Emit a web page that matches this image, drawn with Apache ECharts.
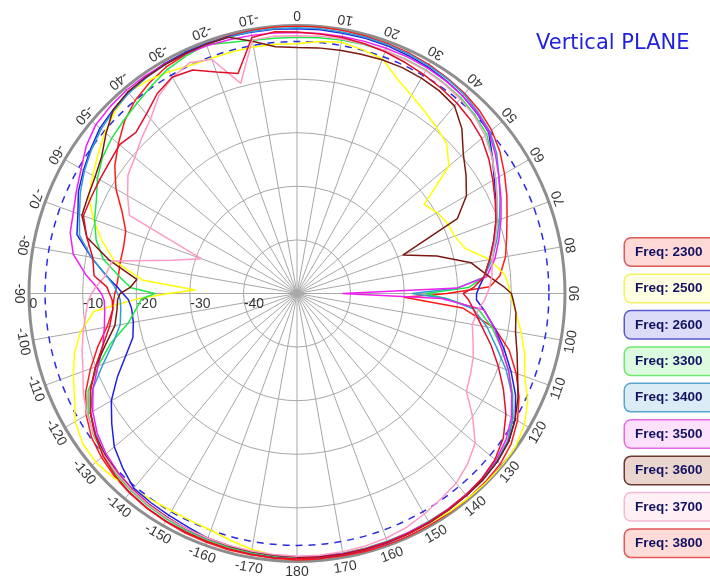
<!DOCTYPE html>
<html>
<head>
<meta charset="utf-8">
<script src="https://cdn.jsdelivr.net/npm/echarts@6/dist/echarts.min.js"></script>
<style>
html,body{margin:0;padding:0;background:#fff;}
#chart{width:710px;height:579px;}
</style>
</head>
<body>
<div id="chart"></div>
<script>
// Angles (degrees, 0 = top, clockwise positive)
const angles = [-180,-175,-170,-165,-160,-155,-150,-145,-140,-135,-130,-125,-120,-115,-110,-105,-100,-95,
  -92,-90,-88,
  -85,-80,-75,-70,-65,-60,-55,-50,-45,-40,-35,-30,-25,-20,-15,-10,-5,
  0,
  5,10,15,20,25,30,35,40,45,50,55,60,65,70,75,80,85,
  88,90,92,
  95,100,105,110,115,120,125,130,135,140,145,150,155,160,165,170,175,180];

// Gain (dB) per frequency, same order as angles
const f2300 = [-0.3,-0.4,-0.5,-0.5,-0.6,-0.7,-0.9,-1.1,-1.4,-1.8,-2.4,-3.2,-4.6,-6.5,-9,-11.5,-14,-15.5,
  -15.8,-16,-16.3,
  -16.5,-16.5,-16.5,-16,-14,-11,-8.5,-6.5,-4.5,-3,-2,-1.2,-0.8,-0.5,-0.3,-0.2,-0.1,
  -0.1,
  -0.1,-0.2,-0.3,-0.4,-0.5,-0.7,-1,-1.3,-1.8,-2.6,-3.8,-5.3,-6.8,-8.3,-9.5,-10.5,-12,
  -14,-22,-30,
  -19,-12.5,-9,-6.5,-4.3,-2.5,-1.2,-0.5,-0.3,-0.2,-0.2,-0.2,-0.2,-0.2,-0.2,-0.3,-0.3,-0.3];
const f2500 = [-0.8,-1,-1.5,-2.3,-3,-3.2,-3.2,-2.9,-2.4,-1.5,-1,-1.2,-2.2,-4.2,-5.6,-7,-9,-12,
  -20,-26,-31,
  -21,-15.5,-12.4,-9.6,-7.1,-6,-4.7,-3.2,-2,-1,-1.5,-2.2,-3,-3.3,-3.3,-3.3,-3.3,
  -3.4,
  -2.8,-2.4,-2.9,-3.4,-5.8,-7.3,-8.5,-9.5,-10.5,-13,-21,-19.8,-19,-18.7,-17.5,-13.5,-11,
  -10.5,-10.2,-9.8,
  -9,-7.5,-6,-4.8,-2.5,-1,-0.2,0,-0.1,-0.2,-0.3,-0.5,-0.6,-0.7,-0.8,-0.9,-0.9,-0.8];
const f2600 = [-0.6,-0.7,-0.9,-1.1,-1.4,-1.9,-2.2,-2.4,-2.6,-4,-5.5,-7.8,-10,-13,-16,-18.3,-19,-19,
  -18.5,-17.5,-16.5,
  -14.5,-11,-7.5,-6.5,-5,-4,-3,-2,-1.5,-1,-0.7,-0.5,-0.4,-0.4,-0.4,-0.5,-0.5,
  -0.6,
  -0.6,-0.7,-0.7,-0.8,-1,-1.2,-1.5,-1.9,-2.5,-3.3,-5.5,-7.5,-9,-10.5,-12,-13.5,-15,
  -16,-16.5,-16.5,
  -15,-12.5,-10,-7.5,-5,-3,-1.8,-1.2,-0.9,-0.8,-0.7,-0.6,-0.6,-0.5,-0.5,-0.5,-0.5,-0.6];
const f3300 = [-0.7,-0.8,-0.9,-1,-1.1,-1.2,-1.4,-1.6,-1.9,-2.3,-2.9,-3.7,-5,-7,-10.5,-14,-18,-20,
  -21,-23.5,-19,
  -17,-13.3,-11.2,-9.8,-8.7,-7,-5.7,-4.9,-4.3,-3.6,-2.7,-1.7,-1.1,-0.6,-1.5,-2,-2.2,
  -2.2,
  -2.1,-2,-1.9,-1.8,-1.8,-1.9,-2.1,-2.4,-3,-3.8,-5.6,-7.2,-8.8,-10.2,-11.8,-13.5,-15,
  -18,-26,-22,
  -16,-13,-10.5,-8,-5.6,-3.5,-2,-1.4,-1.1,-1,-0.9,-0.9,-0.8,-0.8,-0.8,-0.7,-0.7,-0.7];
const f3400 = [-0.9,-1,-1.1,-1.2,-1.3,-1.4,-1.6,-1.8,-2.1,-2.5,-3.2,-4.2,-5.5,-8,-11.5,-14.5,-16.5,-17,
  -17,-16.5,-16,
  -14.5,-11,-8,-6.8,-5.4,-4.2,-3.2,-2.3,-1.7,-1.2,-0.9,-0.7,-0.6,-0.5,-0.5,-0.4,-0.4,
  -0.4,
  -0.4,-0.5,-0.5,-0.6,-0.7,-0.9,-1.1,-1.5,-2.2,-3,-4.5,-6.5,-8.2,-9.8,-11.4,-13,-15,
  -20,-28.5,-22,
  -17,-14,-11.5,-8.5,-5.8,-3.5,-2,-1.3,-1,-0.9,-0.8,-0.8,-0.7,-0.7,-0.7,-0.8,-0.8,-0.9];
const f3500 = [-0.9,-1,-1.1,-1.3,-1.4,-1.5,-1.7,-2,-2.3,-2.8,-3.5,-4.5,-6,-8,-10.5,-12.5,-13.5,-14,
  -14,-13.5,-12.5,
  -10.5,-7.6,-6.2,-5.6,-4.6,-3.5,-2,-1,-0.7,-0.5,-0.5,-0.6,-0.7,-0.8,-1,-1.1,-1.2,
  -1.3,
  -1.3,-1.3,-1.3,-1.3,-1.3,-1.4,-1.6,-1.9,-2.4,-3.2,-4.8,-6.5,-8,-9.5,-11,-12.5,-14.5,
  -20,-41.5,-23,
  -15,-12.6,-10.5,-8,-5.8,-3.8,-2.4,-1.6,-1.2,-1,-0.9,-0.8,-0.8,-0.7,-0.7,-0.7,-0.8,-0.9];
const f3600 = [-0.9,-1,-1.1,-1.2,-1.4,-1.5,-1.7,-1.9,-2.2,-2.6,-3.2,-4,-5.5,-7.5,-10,-13,-15.5,-16.3,
  -16.5,-17,-18.8,
  -20,-14.5,-9.4,-7.3,-7,-6.5,-5.5,-3.5,-1.5,-0.9,-0.8,-0.7,-0.6,-0.5,-0.5,-2.2,-3.8,
  -4.1,
  -4,-3.9,-3.8,-3.6,-3.5,-3.6,-3.8,-4.3,-6.5,-9.5,-11.5,-13.5,-17,-29,-23,-17,-14,
  -11.5,-10,-9.6,
  -9,-8.6,-7.5,-6.2,-4.5,-3,-1.8,-1.2,-0.9,-0.8,-0.7,-0.7,-0.6,-0.6,-0.6,-0.6,-0.7,-0.8];
const f3700 = [-1,-1.1,-1.2,-1.3,-1.4,-1.5,-1.6,-1.8,-2.1,-2.5,-3,-3.8,-4.8,-6,-7.5,-8.5,-9.5,-10.5,
  -11,-11.7,-12.5,
  -14,-15,-26,-31,-15.5,-13.5,-11.5,-10.5,-9,-7.5,-5,-3.5,-2.5,-3.5,-9.4,-2,-1.8,
  -1.9,
  -1.8,-1.8,-1.8,-1.8,-1.9,-2,-2.2,-2.6,-3.2,-4.2,-5.6,-7.2,-8.8,-10.3,-11.8,-13,-13.5,
  -14,-14.5,-15,
  -16,-16.8,-16,-15,-14.3,-13.5,-10,-6.6,-5,-3.8,-3.2,-2.5,-1.8,-1.4,-1.2,-1.1,-1,-1];
const f3800 = [-0.5,-0.5,-0.6,-0.7,-0.8,-0.9,-1,-1.2,-1.5,-2,-2.8,-4,-5.5,-7.5,-10,-12.5,-14.5,-15.5,
  -15.5,-15,-14.5,
  -12,-11.3,-9.4,-7.6,-7.6,-7.5,-7.3,-6.8,-7.5,-6.3,-4.5,-3.4,-4,-6,-7.5,-1.5,-1,
  -1.2,
  -1.4,-1.5,-1.7,-2,-2.4,-2.8,-3.2,-3.6,-4.2,-5,-6.3,-7.8,-9.2,-10.5,-12,-13.5,-15,
  -17,-19,-18,
  -17,-15,-12.5,-10,-7.5,-5,-3,-1.8,-1.2,-0.9,-0.8,-0.7,-0.6,-0.6,-0.5,-0.5,-0.5,-0.5];

const freqs = ['2300','2500','2600','3300','3400','3500','3600','3700','3800'];
const seriesValues = [f2300,f2500,f2600,f3300,f3400,f3500,f3600,f3700,f3800];
const lineColors = ['#ff1a1a','#ffff00','#1f1fe6','#1fe84a','#2f9fd0','#f21ef2','#7a1a12','#ff99c6','#e0102a'];
const legendBorder = ['#e05858','#f2f26a','#5a5ad0','#6ee86e','#5aa6cc','#e46ae4','#6a3a30','#f5b8d4','#e05858'];
const legendFill = ['#ffd9d6','#ffffe2','#dcdcf8','#ddfbdf','#dcecf6','#fde0fc','#ead6cf','#fff0f6','#ffdcd8'];

const angleTicks = [0,10,20,30,40,50,60,70,80,90,100,110,120,130,140,150,160,170,180,-170,-160,-150,-140,-130,-120,-110,-100,-90,-80,-70,-60,-50,-40,-30,-20,-10];
const radiusTicks = [0,-10,-20,-30,-40];
const refLevel = -3; // dashed reference circle level (dB)

const R_MIN = -50, R_MAX = 0, RADIUS = 268, CX = 297, CY = 293.5;
const LABEL_R = 1.9; // label ring, beyond 0 dB

const chart = echarts.init(document.getElementById('chart'), null, {renderer:'canvas'});

const series = freqs.map((f, i) => ({
  type: 'line',
  name: 'Freq: ' + f,
  coordinateSystem: 'polar',
  polarIndex: 0,
  data: angles.map((a, k) => [seriesValues[i][k], a]),
  symbol: 'none',
  smooth: false,
  clip: false,
  lineStyle: {color: lineColors[i], width: 1.5},
  itemStyle: {color: lineColors[i]},
  emphasis: {disabled: true},
  z: 3
}));

series.push({
  type: 'scatter',
  coordinateSystem: 'polar',
  polarIndex: 0,
  clip: false,
  silent: true,
  symbolSize: 1,
  itemStyle: {color: 'rgba(0,0,0,0)'},
  data: angleTicks.map(t => ({value: [LABEL_R, t], name: String(t), label: {rotate: 180 - t}})),
  label: {show: true, position: 'inside', align: 'center', verticalAlign: 'middle',
    formatter: p => p.name, color: '#000', fontSize: 14, fontFamily: 'Liberation Sans, Arial, sans-serif'},
  z: 6
});
series.push({
  type: 'scatter',
  coordinateSystem: 'polar',
  polarIndex: 0,
  clip: false,
  silent: true,
  symbolSize: 1,
  itemStyle: {color: 'rgba(0,0,0,0)'},
  data: radiusTicks.map(v => ({value: [v, -90], name: String(v)})),
  label: {show: true, position: [1, 4], align: 'left', verticalAlign: 'top',
    formatter: p => p.name, color: '#000', fontSize: 14, fontFamily: 'Liberation Sans, Arial, sans-serif'},
  z: 2
});

const option = {
  backgroundColor: '#ffffff',
  animation: false,
  title: {
    text: 'Vertical PLANE', left: 536, top: 33, padding: 0,
    textStyle: {color: '#2222dc', fontSize: 21, fontWeight: 'normal', fontFamily: 'DejaVu Sans, Verdana, sans-serif'}
  },
  legend: {
    orient: 'vertical', left: 620, top: 237, padding: 0, itemGap: 6.4,
    itemWidth: 0, itemHeight: 0, icon: 'rect', selectedMode: false,
    data: freqs.map((f, i) => ({
      name: 'Freq: ' + f,
      textStyle: {backgroundColor: legendFill[i], borderColor: legendBorder[i]}
    })),
    textStyle: {
      color: '#121262', fontWeight: 'bold', fontSize: 13.5,
      fontFamily: "'Liberation Sans', Arial, sans-serif",
      borderWidth: 1.5, borderRadius: 6, padding: [6, 40, 6, 10], lineHeight: 15, width: 70
    }
  },
  polar: [
    {center: [CX, CY], radius: RADIUS},
    {center: [CX, CY], radius: RADIUS * (refLevel - R_MIN) / (R_MAX - R_MIN)}
  ],
  angleAxis: [
    {polarIndex: 0, type: 'value', min: -180, max: 180, interval: 10, startAngle: 270, clockwise: true,
     axisLine: {lineStyle: {color: '#8e8e8e', width: 3}}, axisTick: {show: false}, axisLabel: {show: false},
     splitLine: {lineStyle: {color: '#a8a8a8', width: 1}}},
    {polarIndex: 1, type: 'value', min: -180, max: 180, interval: 10, startAngle: 270, clockwise: true,
     axisLine: {lineStyle: {color: '#2a2ae6', width: 1.5, type: [7, 6]}}, axisTick: {show: false}, axisLabel: {show: false},
     splitLine: {show: false}}
  ],
  radiusAxis: [
    {polarIndex: 0, type: 'value', min: R_MIN, max: R_MAX, interval: 10,
     axisLine: {show: false}, axisTick: {show: false}, axisLabel: {show: false},
     splitLine: {lineStyle: {color: '#a8a8a8', width: 1}}},
    {polarIndex: 1, type: 'value', min: 0, max: 1,
     axisLine: {show: false}, axisTick: {show: false}, axisLabel: {show: false}, splitLine: {show: false}}
  ],
  series: series
};
chart.setOption(option);
</script>
</body>
</html>
